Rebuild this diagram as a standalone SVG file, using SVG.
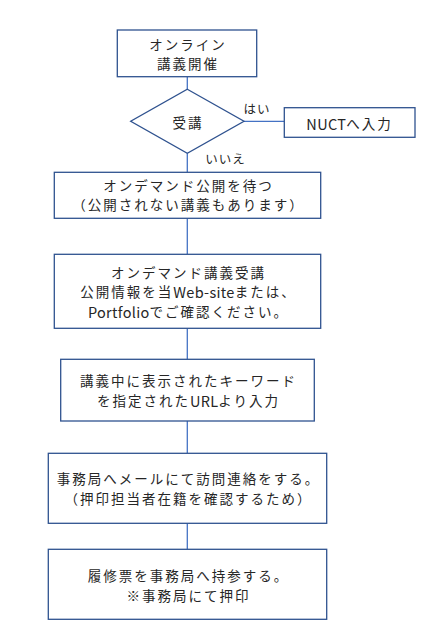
<svg xmlns="http://www.w3.org/2000/svg" width="430" height="641" viewBox="0 0 430 641">
<style>
.box{fill:#fff;stroke:#2F528F;stroke-width:1.3}
.ln{fill:none;stroke:#4472C4;stroke-width:1.3}
text{font-family:"Noto Sans CJK JP","Noto Sans",sans-serif;font-size:13.5px;letter-spacing:2px;fill:#262626;text-anchor:middle;dominant-baseline:central}
.lat{letter-spacing:0.3px;font-size:14.5px}
.lbl{font-size:12.5px;letter-spacing:1px}
</style>
<rect width="430" height="641" fill="#fff"/>
<g id="connectors">
<line class="ln" x1="187.3" y1="77" x2="187.3" y2="89.3"/>
<line class="ln" x1="244" y1="121.3" x2="284.3" y2="121.3"/>
<line class="ln" x1="187.3" y1="153.3" x2="187.3" y2="172.3"/>
<line class="ln" x1="187.3" y1="218.3" x2="187.3" y2="254.3"/>
<line class="ln" x1="187.3" y1="328.3" x2="187.3" y2="359.3"/>
<line class="ln" x1="187.3" y1="421" x2="187.3" y2="453.3"/>
<line class="ln" x1="187.3" y1="523.3" x2="187.3" y2="549.3"/>
<text class="lbl" x="257" y="108.5">はい</text>
<text class="lbl" x="225.5" y="158">いいえ</text>
</g>
<g id="n1">
<rect class="box" x="117.3" y="30" width="139.4" height="46.7"/>
<text x="188" y="43.5">オンライン</text>
<text x="188" y="63">講義開催</text>
</g>
<g id="n2">
<polygon class="box" points="187.3,89.3 244,121.3 187.3,153.3 130.7,121.3"/>
<text x="188" y="121.5">受講</text>
</g>
<g id="n3">
<rect class="box" x="284.3" y="107.7" width="130.7" height="29.6"/>
<text x="349.5" y="123"><tspan class="lat">NUCT</tspan>へ入力</text>
</g>
<g id="n4">
<rect class="box" x="54.3" y="172.3" width="266.4" height="46"/>
<text x="188.5" y="184.5">オンデマンド公開を待つ</text>
<text x="188.5" y="204.1">（公開されない講義もあります）</text>
</g>
<g id="n5">
<rect class="box" x="54.3" y="254.3" width="266.4" height="74"/>
<text x="188.5" y="271.5">オンデマンド講義受講</text>
<text x="188.5" y="291">公開情報を当<tspan class="lat">Web-site</tspan>または、</text>
<text x="188.5" y="310.5"><tspan class="lat">Portfolio</tspan>でご確認ください。</text>
</g>
<g id="n6">
<rect class="box" x="60.7" y="359.3" width="253.6" height="61.7"/>
<text x="188.5" y="380">講義中に表示されたキーワード</text>
<text x="188.5" y="400">を指定された<tspan class="lat">URL</tspan>より入力</text>
</g>
<g id="n7">
<rect class="box" x="48.3" y="453.3" width="278.4" height="70"/>
<text x="188.5" y="478">事務局へメールにて訪問連絡をする。</text>
<text x="188.5" y="497.6">（押印担当者在籍を確認するため）</text>
</g>
<g id="n8">
<rect class="box" x="48.3" y="549.3" width="278.4" height="70"/>
<text x="188.5" y="575">履修票を事務局へ持参する。</text>
<text x="188.5" y="594.6">※事務局にて押印</text>
</g>
</svg>
